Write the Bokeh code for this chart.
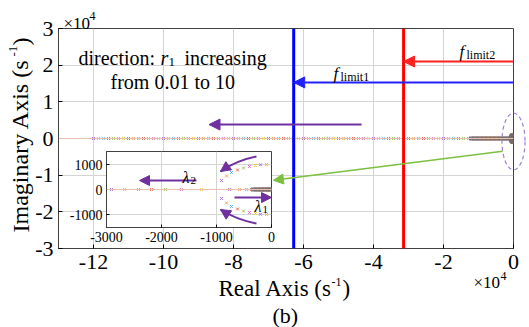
from bokeh.plotting import figure
from bokeh.models import (Range1d, Span, Arrow, NormalHead, Label, FixedTicker,
                          InlineStyleSheet, CustomJSTickFormatter)
from bokeh.embed import file_html
from bokeh.resources import INLINE

# ---------------- data (main plot, units of 1e4 s^-1) ----------------
x_ticks = [-12, -10, -8, -6, -4, -2, 0]
y_ticks = [-3, -2, -1, 0, 1, 2, 3]

far_pole_re = [-12.00, -11.86, -11.71, -11.57, -11.43, -11.29, -11.14, -11.00, -10.86, -10.71,
               -10.57, -10.43, -10.29, -10.14, -10.00, -9.86, -9.71, -9.57, -9.43, -9.29,
               -9.14, -9.00, -8.86, -8.71, -8.57, -8.43, -8.29, -8.14, -8.00, -7.86,
               -7.71, -7.57, -7.43, -7.29, -7.14, -7.00, -6.86, -6.71, -6.57, -6.43,
               -6.29, -6.14, -6.00, -5.86, -5.71, -5.57, -5.43, -5.29, -5.14, -5.00,
               -4.86, -4.71, -4.57, -4.43, -4.29, -4.14, -4.00, -3.86, -3.71, -3.57,
               -3.43, -3.29, -3.14, -3.00, -2.86, -2.71, -2.57, -2.43, -2.29, -2.14,
               -2.00, -1.86, -1.71, -1.57, -1.43, -1.29]
far_pole_im = [0.0] * len(far_pole_re)
dense_re = [-1.22, -1.19, -1.16, -1.13, -1.10, -1.07, -1.04, -1.01, -0.98, -0.95,
            -0.92, -0.89, -0.86, -0.83, -0.80, -0.77, -0.74, -0.71, -0.68, -0.65,
            -0.62, -0.59, -0.56, -0.53, -0.50, -0.47, -0.44, -0.41, -0.38, -0.35,
            -0.32, -0.29, -0.26, -0.23, -0.20, -0.17, -0.14, -0.11, -0.08, -0.05]
dense_im = [0.0] * len(dense_re)

near_re = [-0.09, -0.08, -0.07, -0.06, -0.05, -0.04, -0.03, -0.02, -0.01,
           -0.09, -0.08, -0.07, -0.06, -0.05, -0.04, -0.03, -0.02, -0.01]
near_im = [0.04, 0.06, 0.07, 0.08, 0.09, 0.10, 0.10, 0.10, 0.10,
           -0.04, -0.06, -0.07, -0.08, -0.09, -0.10, -0.10, -0.10, -0.10]

f_limit1 = -6.28   # x1e4 s^-1
f_limit2 = -3.14
f_limit1_y = 1.53
f_limit2_y = 2.10

# ---------------- data (inset, s^-1) ----------------
inset_x_ticks = [-3000, -2000, -1000, 0]
inset_y_ticks = [-1000, 0, 1000]
inset_real = [-2910, -2670, -2420, -2180, -1930, -1640, -1270, -760, -580, -450, -360]
inset_real_im = [0.0] * len(inset_real)
inset_dense = [-340, -320, -300, -280, -260, -240, -220, -200, -185, -170, -155, -140,
               -125, -110, -95, -80, -65, -50, -40, -30, -20, -10]
inset_dense_im = [0.0] * len(inset_dense)
upper_re = [-909, -818, -727, -618, -509, -400, -291, -200, -91]
upper_im = [360, 540, 680, 780, 860, 920, 960, 990, 1000]
lower_re = [-909, -818, -727, -618, -509, -400, -291, -200, -91]
lower_im = [-360, -540, -680, -780, -860, -920, -960, -990, -1000]

palette = ["#a46fd6", "#f5a35a", "#5fb3ea", "#e8604c", "#93c95b", "#e06fbf", "#f2c744"]
dense_palette = ["#8a6a5a", "#6a7a8a", "#9a7a60", "#7a6a80"]

SERIF = "Liberation Serif"
PURPLE = "#7030a0"

# page / frame geometry (pixels)
W, H = 529, 327
FL, FR, FT, FB = 58, 513, 28, 248
XR = (-13.0, 0.0)
YR = (-3.0, 3.0)
sx = (FR - FL) / (XR[1] - XR[0])
sy = (FB - FT) / (YR[1] - YR[0])

def px_x(px):
    return XR[0] + (px - FL) / sx

def px_y(py):
    return YR[1] - (py - FT) / sy

hyphen_fmt = CustomJSTickFormatter(code="return tick.toString();")

def place(left, top):
    return [InlineStyleSheet(css=":host{position:absolute !important;left:%dpx !important;top:%dpx !important;}" % (left, top))]

def lab(fig, x, y, text, size, style="normal", color="black", **kw):
    kw.setdefault("text_baseline", "alphabetic")
    fig.add_layout(Label(x=x, y=y, text=text, text_font=SERIF, text_font_size=size,
                         text_font_style=style, text_color=color, **kw))

def mcolors(n, pal=palette):
    return [pal[i % len(pal)] for i in range(n)]

# ---------------- main figure ----------------
p = figure(width=W, height=H, x_range=Range1d(*XR), y_range=Range1d(*YR),
           output_backend="svg", toolbar_location=None,
           min_border_left=FL, min_border_right=W - FR, min_border_top=FT, min_border_bottom=H - FB,
           background_fill_color="white", border_fill_color="white",
           stylesheets=place(0, 0))
p.outline_line_color = "#404040"
p.outline_line_width = 1
for ax, ticks in ((p.xaxis, x_ticks), (p.yaxis, y_ticks)):
    ax.ticker = FixedTicker(ticks=ticks)
    ax.formatter = hyphen_fmt
    ax.minor_tick_line_color = None
    ax.major_tick_in = 4
    ax.major_tick_out = 0
    ax.axis_line_color = "#404040"
    ax.major_label_text_font = SERIF
    ax.major_label_text_font_size = "22px"
    ax.major_label_text_color = "black"
    ax.major_label_standoff = 6
p.yaxis.major_label_standoff = 5
p.grid.grid_line_color = "#d4d4d4"
p.grid.grid_line_width = 1
p.add_layout(Span(location=0, dimension="width", line_color="#e8c0b0", line_width=1))

p.scatter(far_pole_re, far_pole_im, marker="x", size=4, line_width=1,
          color=mcolors(len(far_pole_re)))
p.scatter(dense_re, dense_im, marker="x", size=5, line_width=1.3,
          color=mcolors(len(dense_re), dense_palette))
p.scatter(near_re, near_im, marker="x", size=4, line_width=1.2, color="#7a6a6a")

p.add_layout(Span(location=f_limit1, dimension="height", line_color="#0000ff", line_width=3))
p.add_layout(Span(location=f_limit2, dimension="height", line_color="#ff0000", line_width=3))

p.add_layout(Arrow(x_start=0, y_start=f_limit2_y, x_end=f_limit2, y_end=f_limit2_y,
                   line_color="#ff2020", line_width=2,
                   end=NormalHead(size=11, fill_color="#ff2020", line_color="#ff2020")))
p.add_layout(Arrow(x_start=0, y_start=f_limit1_y, x_end=f_limit1, y_end=f_limit1_y,
                   line_color="#2020ff", line_width=2,
                   end=NormalHead(size=11, fill_color="#2020ff", line_color="#2020ff")))
p.add_layout(Arrow(x_start=-4.34, y_start=0.38, x_end=-8.70, y_end=0.38,
                   line_color=PURPLE, line_width=2,
                   end=NormalHead(size=11, fill_color=PURPLE, line_color=PURPLE)))
p.add_layout(Arrow(x_start=-0.31, y_start=-0.35, x_end=-6.86, y_end=-1.14,
                   line_color="#7cc040", line_width=1.5,
                   end=NormalHead(size=10, fill_color="#7cc040", line_color="#7cc040")))

lab(p, px_x(78), px_y(57), "direction:", "20px")
lab(p, px_x(160), px_y(57), "r", "20px", "italic")
lab(p, px_x(168), px_y(61), "1", "13px")
lab(p, px_x(184), px_y(57), "increasing", "20px")
lab(p, px_x(110), px_y(81), "from 0.01 to 10", "20px")
lab(p, px_x(459), px_y(51), "f", "17px", "italic")
lab(p, px_x(466), px_y(54), "limit2", "12px")
lab(p, px_x(333), px_y(73), "f", "17px", "italic")
lab(p, px_x(340), px_y(76), "limit1", "12px")

# ---------------- inset ----------------
inset = figure(width=220, height=110, x_range=Range1d(-3000, 0), y_range=Range1d(-1520, 1520),
               output_backend="svg", toolbar_location=None,
               min_border_left=47, min_border_right=8, min_border_top=10, min_border_bottom=24,
               background_fill_color="white", border_fill_color=None,
               stylesheets=place(59, 141))
inset.outline_line_color = "#404040"
for ax, ticks in ((inset.xaxis, inset_x_ticks), (inset.yaxis, inset_y_ticks)):
    ax.ticker = FixedTicker(ticks=ticks)
    ax.formatter = hyphen_fmt
    ax.minor_tick_line_color = None
    ax.major_tick_in = 3
    ax.major_tick_out = 0
    ax.axis_line_color = "#404040"
    ax.major_label_text_font = SERIF
    ax.major_label_text_font_size = "14px"
    ax.major_label_text_color = "black"
    ax.major_label_standoff = 4
inset.grid.grid_line_color = "#d4d4d4"
inset.add_layout(Span(location=0, dimension="width", line_color="#e8c0b0", line_width=1))

inset.scatter(inset_real, inset_real_im, marker="x", size=4, line_width=1,
              color=mcolors(len(inset_real)))
inset.scatter(inset_dense, inset_dense_im, marker="x", size=5, line_width=1.3,
              color=mcolors(len(inset_dense), dense_palette))
inset.scatter(upper_re, upper_im, marker="x", size=4, line_width=1, color=mcolors(len(upper_re)))
inset.scatter(lower_re, lower_im, marker="x", size=4, line_width=1, color=mcolors(len(lower_re)))

# curved arrows (quadratic curves + heads)
curve_x0 = [-273, -273]
curve_y0 = [1320, -1360]
curve_x1 = [-927, -927]
curve_y1 = [720, -800]
curve_cx = [-650, -650]
curve_cy = [1150, -1200]
inset.quadratic(x0=curve_x0, y0=curve_y0, x1=curve_x1, y1=curve_y1, cx=curve_cx, cy=curve_cy,
                line_color=PURPLE, line_width=2)
for i in range(2):
    inset.add_layout(Arrow(x_start=curve_x1[i] + 0.15 * (curve_cx[i] - curve_x1[i]),
                           y_start=curve_y1[i] + 0.15 * (curve_cy[i] - curve_y1[i]),
                           x_end=curve_x1[i], y_end=curve_y1[i], line_alpha=0,
                           end=NormalHead(size=10, fill_color=PURPLE, line_color=PURPLE)))
inset.add_layout(Arrow(x_start=-1364, y_start=360, x_end=-2400, y_end=360,
                       line_color=PURPLE, line_width=2,
                       end=NormalHead(size=10, fill_color=PURPLE, line_color=PURPLE)))
inset.add_layout(Arrow(x_start=-673, y_start=-320, x_end=0, y_end=-320,
                       line_color=PURPLE, line_width=2,
                       end=NormalHead(size=10, fill_color=PURPLE, line_color=PURPLE)))
lab(inset, -1618, 480, "\u03bb", "16px", "italic")
lab(inset, -1618, 480, "2", "11px", x_offset=8, y_offset=-3)
lab(inset, -309, -680, "\u03bb", "16px", "italic")
lab(inset, -309, -680, "1", "11px", x_offset=8, y_offset=-3)

# ---------------- full-page overlay: texts outside the frame + dashed ellipse ----------------
ov = figure(width=W, height=H,
            x_range=Range1d(XR[0] - FL / sx, XR[1] + (W - FR) / sx),
            y_range=Range1d(YR[0] - (H - FB) / sy, YR[1] + FT / sy),
            output_backend="svg", toolbar_location=None, x_axis_type=None, y_axis_type=None,
            min_border=0, background_fill_color=None, border_fill_color=None,
            stylesheets=place(0, 0))
ov.outline_line_color = None
ov.ellipse(x=[0], y=[-0.08], width=[0.66], height=[1.55], fill_color=None,
           line_color="#a080d0", line_width=1.2, line_dash="4 3")

# x-axis title: "Real Axis (s^-1)"
lab(ov, px_x(218), px_y(288), "Real Axis (s", "23px")
lab(ov, px_x(331), px_y(281), "-1", "12px")
lab(ov, px_x(342), px_y(288), ")", "23px")
# y-axis title, rotated
lab(ov, px_x(20), px_y(232), "Imaginary Axis (s", "24px", angle=1.5708)
lab(ov, px_x(13), px_y(56), "-1", "13px", angle=1.5708)
lab(ov, px_x(20), px_y(45), ")", "24px", angle=1.5708)
# exponent markers
lab(ov, px_x(63), px_y(23), "\u00d710", "17px")
lab(ov, px_x(89), px_y(15), "4", "12px")
lab(ov, px_x(473), px_y(282), "\u00d710", "17px")
lab(ov, px_x(500), px_y(275), "4", "12px")
# sub-figure tag
lab(ov, px_x(272), px_y(315), "(b)", "22px")

open("out.html", "w").write(file_html([p, inset, ov], INLINE))
